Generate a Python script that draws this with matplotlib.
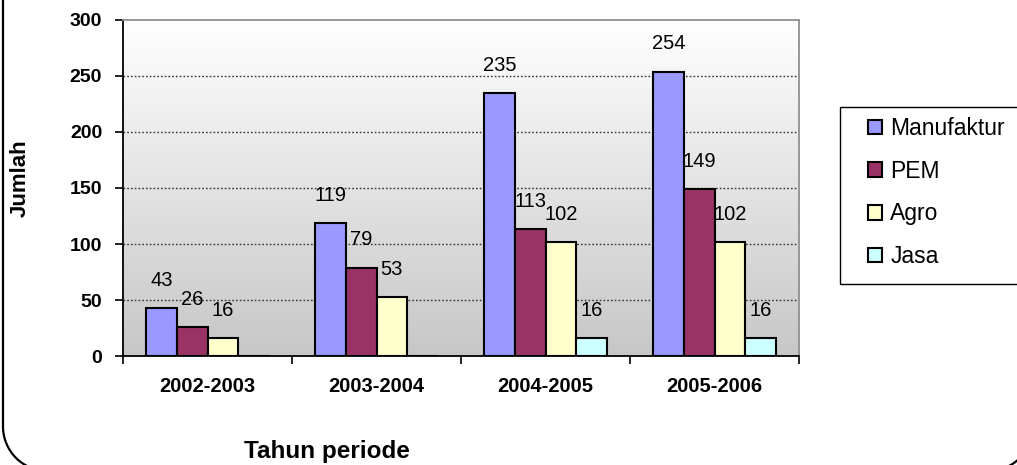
import matplotlib
matplotlib.use("Agg")
import matplotlib.pyplot as plt
import numpy as np
from matplotlib.patches import Rectangle, Arc, Patch

categories = ["2002-2003", "2003-2004", "2004-2005", "2005-2006"]
series_names = ["Manufaktur", "PEM", "Agro", "Jasa"]
manufaktur = [43, 119, 235, 254]
pem = [26, 79, 113, 149]
agro = [16, 53, 102, 102]
jasa = [0, 0, 16, 16]
yticks = [0, 50, 100, 150, 200, 250, 300]
colors = ["#9999FF", "#993366", "#FFFFCC", "#CCFFFF"]

plt.rcParams['font.family'] = ['Liberation Sans', 'DejaVu Sans']

W, H = 1017, 465
fig = plt.figure(figsize=(W / 100, H / 100), dpi=100)

def fx(px):
    return px / W

def fy(py):
    return 1 - py / H

# overlay axes in pixel coordinates (y measured upward) for border and legend frame
bg = fig.add_axes([0, 0, 1, 1], zorder=-1)
bg.set_xlim(0, W)
bg.set_ylim(0, H)
bg.axis("off")
r = 44.5
left_x, right_x, bottom_y = 3, 1033, -6
lw = 1.6
bg.plot([left_x, left_x], [H + 10, bottom_y + r], color="black", lw=lw, solid_capstyle="butt")
bg.plot([left_x + r, right_x - r], [bottom_y, bottom_y], color="black", lw=lw)
bg.plot([right_x, right_x], [bottom_y + r, H + 10], color="black", lw=lw)
bg.add_patch(Arc((left_x + r, bottom_y + r), 2 * r, 2 * r, theta1=180, theta2=270,
                 color="black", lw=lw))
bg.add_patch(Arc((right_x - r, bottom_y + r), 2 * r, 2 * r, theta1=270, theta2=360,
                 color="black", lw=lw))
bg.add_patch(Rectangle((840, H - 284), 220, 177, facecolor="white",
                       edgecolor="black", linewidth=1.0))

ax = fig.add_axes([fx(123), fy(356), fx(799) - fx(123), fy(20) - fy(356)])

# gradient background
grad = np.linspace(1.0, 0.78, 256).reshape(-1, 1)
ax.imshow(np.dstack([grad, grad, grad]), extent=[-0.5, len(categories) - 0.5, 0, 300],
          aspect="auto", zorder=0, interpolation="bilinear")

x = np.arange(len(categories))
bw = 1 / 5.5
data = [manufaktur, pem, agro, jasa]
for i, (vals, c) in enumerate(zip(data, colors)):
    pos = x + (i - 1.5) * bw
    ax.bar(pos, vals, width=bw, color=c, edgecolor="black", linewidth=1.5, zorder=3)
    for p, v in zip(pos, vals):
        if v > 0:
            ax.annotate(str(v), (p, v), xytext=(0, 13), textcoords="offset points",
                        ha="center", va="bottom", fontsize=14.5, zorder=4)

ax.set_xlim(-0.5, len(categories) - 0.5)
ax.set_ylim(0, 300)
ax.set_yticks(yticks)
ax.set_yticklabels([str(t) for t in yticks], fontweight="bold", fontsize=14)
ax.set_xticks(x)
ax.set_xticklabels(categories, fontweight="bold", fontsize=14.5)
ax.tick_params(axis="x", length=0, pad=15)
ax.set_xticks(np.arange(len(categories) + 1) - 0.5, minor=True)
ax.tick_params(axis="x", which="minor", length=6, width=1.2, direction="out")
ax.tick_params(axis="y", length=6, width=1.2, direction="out", pad=9)
for yv in yticks[1:-1]:
    ax.axhline(yv, color="#333333", linestyle=(0, (1.2, 1.5)), linewidth=1.0, zorder=1)
ax.spines["left"].set_linewidth(1.3)
ax.spines["bottom"].set_linewidth(1.3)
ax.spines["top"].set_color("#909090")
ax.spines["right"].set_color("#909090")
ax.spines["top"].set_linewidth(1.3)
ax.spines["right"].set_linewidth(1.3)

fig.text(fx(20), fy(178), "Jumlah", rotation=90, ha="center", va="center",
         fontsize=16, fontweight="bold")
fig.text(fx(327), fy(451), "Tahun periode", ha="center", va="center",
         fontsize=17.5, fontweight="bold")

handles = [Patch(facecolor=c, edgecolor="black", linewidth=1.5) for c in colors]
fig.legend(handles, series_names, loc="upper left",
           bbox_to_anchor=(fx(868), fy(117)), frameon=False, fontsize=16.5,
           handlelength=0.62, handleheight=0.62, handletextpad=0.35,
           labelspacing=0.86, borderaxespad=0, borderpad=0)

fig.savefig("out.png", dpi=100)
